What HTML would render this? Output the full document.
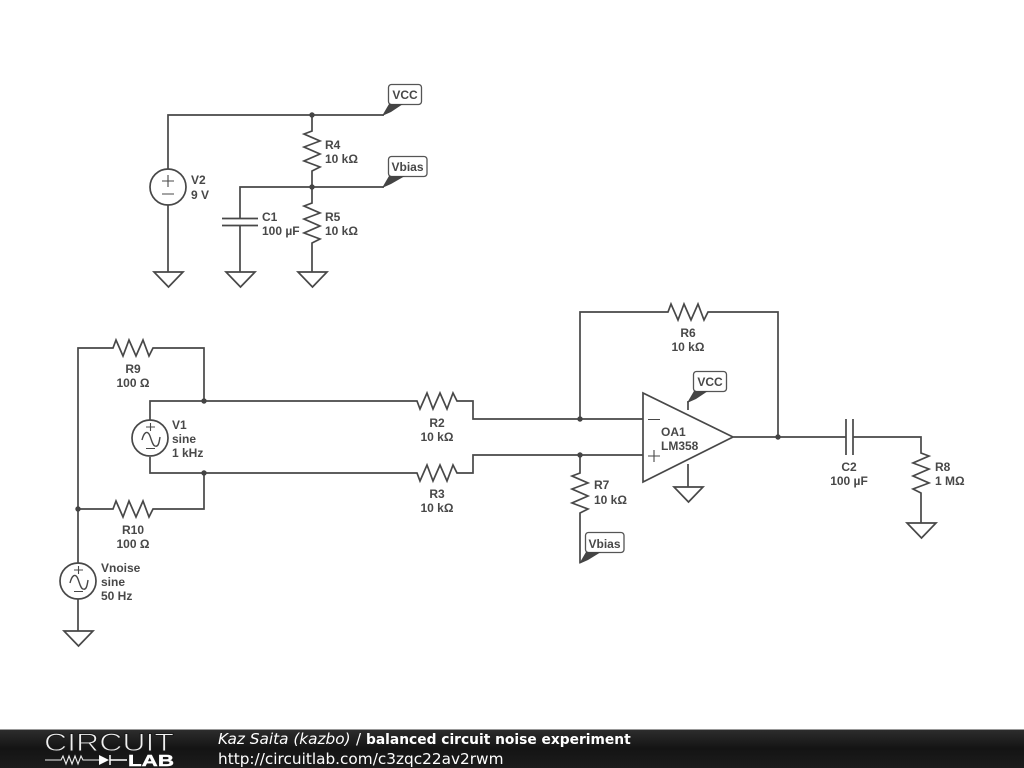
<!DOCTYPE html>
<html>
<head>
<meta charset="utf-8">
<style>
html,body{margin:0;padding:0;background:#fff;width:1024px;height:768px;overflow:hidden}
svg{display:block}
.w{fill:none;stroke:#484848;stroke-width:1.700;stroke-linejoin:miter}
.s{fill:none;stroke:#484848;stroke-width:1.100}
.t{font-family:"Liberation Sans",sans-serif;font-size:12px;font-weight:bold;fill:#484848}
.m{text-anchor:middle}
.tag{fill:#fff;stroke:#555;stroke-width:1.300}
.wedge{fill:#444}
.dot{fill:#444}
</style>
</head>
<body>
<svg width="1024" height="768" viewBox="0 0 1024 768" xmlns="http://www.w3.org/2000/svg">
<defs>
<linearGradient id="bar" x1="0" y1="0" x2="0" y2="1">
<stop offset="0" stop-color="#2e2e2e"/>
<stop offset="0.5" stop-color="#141414"/>
<stop offset="1" stop-color="#1c1c1c"/>
</linearGradient>
</defs>
<rect width="1024" height="768" fill="#fff"/>

<!-- top circuit wires -->
<path class="w" d="M168 169V115H384M312 115V131L304 134 320 141 304 147 320 154 304 161 320 167 312 171V187"/>
<path class="w" d="M240 218V187H384M312 187V203L304 206 320 213 304 219 320 226 304 233 320 239 312 243V272"/>
<path class="w" d="M168 205V272M240 226V272M222 218.500H258M222 225.500H258"/>
<circle class="w" cx="168" cy="187" r="18"/>
<path class="s" d="M162 181H174M168 175V187M162 194H174"/>
<path class="w" d="M154 272H183L168.500 287ZM226 272H255L240.500 287ZM298 272H327L312.500 287Z"/>

<!-- bottom-left wires -->
<path class="w" d="M78 563V348H113L116 340 123 356 129 340 136 356 143 340 149 356 153 348H204V401"/>
<path class="w" d="M78 509H113L116 501 123 517 129 501 136 517 143 501 149 517 153 509H204V473"/>
<path class="w" d="M150 420V401H417L420 409 427 393 433 409 440 393 447 409 453 393 457 401H473V419H643"/>
<path class="w" d="M150 457V473H417L420 481 427 465 433 481 440 465 447 481 453 465 457 473H473V455H643"/>
<circle class="w" cx="150" cy="438" r="18"/>
<path class="s" d="M146 427H155M150.500 423V431M146 448.500H155"/>
<path class="s" style="stroke-width:1.400" d="M142 440C144 432 147 431 149 434S152 445 155 446 159 444 160 437"/>
<circle class="w" cx="78" cy="581" r="18"/>
<path class="s" d="M74 570H83M78.500 566V574M74 591.500H83"/>
<path class="s" style="stroke-width:1.400" d="M70 583C72 575 75 574 77 577S80 588 83 589 87 587 88 580"/>
<path class="w" d="M78 599V631M64 631H93L78.500 646Z"/>

<!-- op amp section -->
<path class="w" d="M580 419V312H668L671 304 678 320 684 304 691 320 698 304 704 320 708 312H778V437"/>
<path class="w" d="M643 393V482L733 437ZM733 437H846M846 419V455M853 419V455M853 437H921V453L929 456 913 463 929 469 913 476 929 483 913 489 921 493V523"/>
<path class="w" d="M907 523H936L921.500 538Z"/>
<path class="s" d="M648 419.500H660M648 456H660M654 450V462"/>
<path class="w" d="M688 410V401M688 464V487M674 487H703L688.500 502Z"/>
<path class="w" d="M580 455V473L572 476 588 483 572 489 588 496 572 503 588 509 580 513V563"/>

<!-- junctions -->
<circle class="dot" cx="312" cy="115" r="2.700"/>
<circle class="dot" cx="312" cy="187" r="2.700"/>
<circle class="dot" cx="204" cy="401" r="2.700"/>
<circle class="dot" cx="204" cy="473" r="2.700"/>
<circle class="dot" cx="78" cy="509" r="2.700"/>
<circle class="dot" cx="580" cy="419" r="2.700"/>
<circle class="dot" cx="580" cy="455" r="2.700"/>
<circle class="dot" cx="778" cy="437" r="2.700"/>

<!-- net tags -->
<rect class="tag" x="388.500" y="84.500" width="33" height="20" rx="3"/>
<path class="wedge" d="M382 116L389 104H403L391 112Z"/>
<text class="t m" x="405" y="99">VCC</text>
<rect class="tag" x="388.500" y="156.500" width="38.500" height="20" rx="3"/>
<path class="wedge" d="M382 188L389 176H405L391 184Z"/>
<text class="t m" x="407.500" y="171">Vbias</text>
<rect class="tag" x="693.500" y="371.500" width="33" height="20" rx="3"/>
<path class="wedge" d="M687 403L694 391H708L696 399Z"/>
<text class="t m" x="710" y="386">VCC</text>
<rect class="tag" x="585.500" y="532.500" width="38.500" height="20" rx="3"/>
<path class="wedge" d="M579 564L586 552H601L588 560Z"/>
<text class="t m" x="604.500" y="548">Vbias</text>

<!-- labels -->
<text class="t" x="191" y="184">V2</text><text class="t" x="191" y="199">9 V</text>
<text class="t" x="325" y="149">R4</text><text class="t" x="325" y="163">10 kΩ</text>
<text class="t" x="325" y="221">R5</text><text class="t" x="325" y="235">10 kΩ</text>
<text class="t" x="262" y="221">C1</text><text class="t" x="262" y="235">100 µF</text>
<text class="t m" x="133" y="373">R9</text><text class="t m" x="133" y="387">100 Ω</text>
<text class="t" x="172" y="429">V1</text><text class="t" x="172" y="443">sine</text><text class="t" x="172" y="457">1 kHz</text>
<text class="t m" x="133" y="534">R10</text><text class="t m" x="133" y="548">100 Ω</text>
<text class="t" x="101" y="572">Vnoise</text><text class="t" x="101" y="586">sine</text><text class="t" x="101" y="600">50 Hz</text>
<text class="t m" x="437" y="427">R2</text><text class="t m" x="437" y="441">10 kΩ</text>
<text class="t m" x="437" y="498">R3</text><text class="t m" x="437" y="512">10 kΩ</text>
<text class="t m" x="688" y="337">R6</text><text class="t m" x="688" y="351">10 kΩ</text>
<text class="t" x="594" y="489">R7</text><text class="t" x="594" y="504">10 kΩ</text>
<text class="t" x="661" y="436">OA1</text><text class="t" x="661" y="450">LM358</text>
<text class="t m" x="849" y="471">C2</text><text class="t m" x="849" y="485">100 µF</text>
<text class="t" x="935" y="471">R8</text><text class="t" x="935" y="485">1 MΩ</text>

<!-- footer -->
<rect x="0" y="729" width="1024" height="39" fill="url(#bar)"/>
<rect x="0" y="729" width="1024" height="1" fill="#999"/>
<text x="44" y="751" textLength="130" lengthAdjust="spacingAndGlyphs" style="font-family:'Liberation Sans',sans-serif;font-size:25px;fill:#f0f0f0;stroke:#1b1b1b;stroke-width:0.900;paint-order:fill stroke">CIRCUIT</text>
<path d="M45 760H61L63 756 66 764 69 756 72 764 75 756 78 764 81 756 83 760H99" fill="none" stroke="#eee" stroke-width="1.100"/>
<path d="M99 755V765L109 760Z" fill="#fff"/>
<path d="M110 755V765M110 760H127" fill="none" stroke="#fff" stroke-width="1.500"/>
<text x="128" y="766" textLength="46" lengthAdjust="spacingAndGlyphs" style="font-family:'Liberation Sans',sans-serif;font-size:16px;font-weight:bold;fill:#fff;stroke:#fff;stroke-width:0.400">LAB</text>
<text y="744" style="font-family:'DejaVu Sans',sans-serif;fill:#fff"><tspan x="218" font-size="15.300" font-style="italic">Kaz Saita (kazbo)</tspan><tspan x="356" font-size="15">/</tspan><tspan x="366" font-size="13.800" font-weight="bold">balanced circuit noise experiment</tspan></text>
<text x="218" y="764" style="font-family:'DejaVu Sans',sans-serif;font-size:15.300px;fill:#fff">http://circuitlab.com/c3zqc22av2rwm</text>
</svg>
</body>
</html>
